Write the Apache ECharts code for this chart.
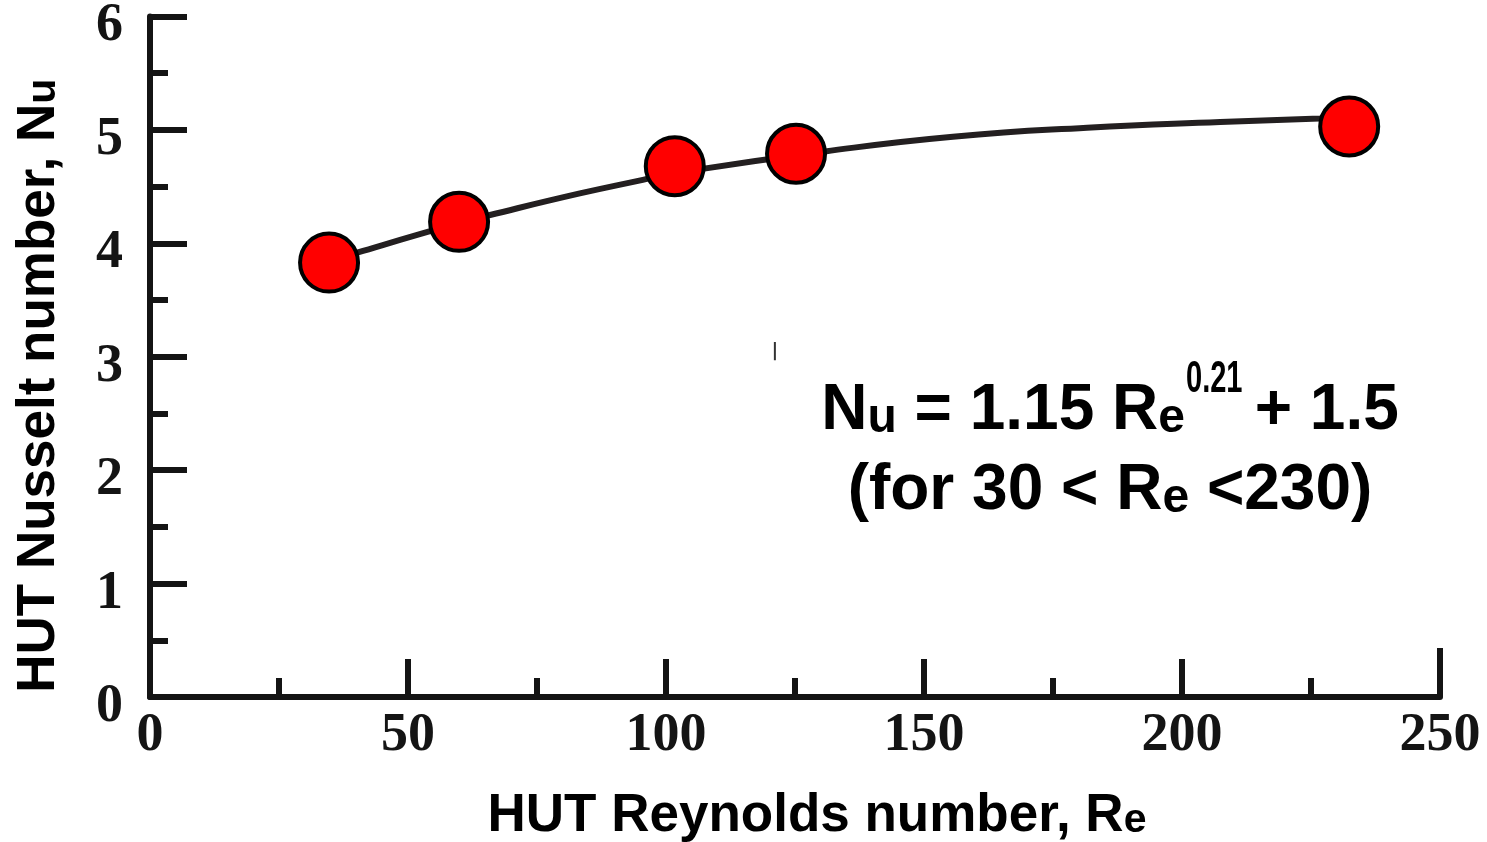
<!DOCTYPE html>
<html>
<head>
<meta charset="utf-8">
<script src="https://cdn.jsdelivr.net/npm/echarts@6/dist/echarts.min.js"></script>
<style>html,body{margin:0;padding:0;background:#fff;}#c{width:1487px;height:842px;}</style>
</head>
<body>
<div id="c"></div>
<script>
// Measured data points (Re, Nu)
const reynolds = [34.7, 59.9, 101.7, 125.2, 232.4];
const nusselt = [3.83, 4.19, 4.68, 4.79, 5.03];
// Fitted curve
const curveRe = [34.7, 40.3, 59.9, 65.9, 83.3, 95.5, 101.7, 130.8, 155.6, 181.6, 207.4, 226.7, 232.4];
const curveNu = [3.84, 3.92, 4.18, 4.25, 4.44, 4.56, 4.62, 4.81, 4.94, 5.02, 5.07, 5.10, 5.11];
// small stray mark in the figure
const strayRe = [121.1, 121.1];
const strayNu = [2.97, 3.13];
const xTicks = [0, 50, 100, 150, 200, 250];
const yTicks = [0, 1, 2, 3, 4, 5, 6];

const chart = echarts.init(document.getElementById('c'), null, {renderer: 'canvas'});
const ink = '#141414';
const labelFont = {fontFamily: 'Liberation Serif', fontWeight: 'bold', fontSize: 54, color: ink};
const titleFont = {fontFamily: 'Liberation Sans', fontWeight: 'bold', fontSize: 53, color: '#000'};
const subStyle = {fontFamily: 'Liberation Sans', fontWeight: 'bold', fontSize: 41, color: '#000', padding: [8, 0, 0, 0]};
const eqFont = 'Liberation Sans';

chart.setOption({
  animation: false,
  grid: {left: 150, right: 47, top: 16.5, bottom: 145, containLabel: false, outerBoundsMode: 'none'},
  xAxis: [{
    type: 'value', min: xTicks[0], max: xTicks[xTicks.length - 1], interval: 50,
    position: 'bottom',
    axisLine: {show: true, lineStyle: {color: ink, width: 6}},
    axisTick: {show: true, inside: true, length: 38, lineStyle: {color: ink, width: 6}},
    minorTick: {show: true, splitNumber: 2, length: 19, lineStyle: {color: ink, width: 6}},
    splitLine: {show: false},
    axisLabel: Object.assign({margin: 12}, labelFont),
    name: 'HUT Reynolds number, R{s|e}',
    nameLocation: 'middle', nameGap: 93,
    nameTextStyle: Object.assign({padding: [0, 0, 0, 44], rich: {s: subStyle}}, titleFont)
  }, {
    type: 'value', min: 0, max: 250, interval: 250, position: 'bottom',
    axisLine: {show: false},
    axisTick: {show: true, inside: true, length: 49, lineStyle: {color: ink, width: 6}},
    axisLabel: {show: false}, splitLine: {show: false}
  }],
  yAxis: {
    type: 'value', min: yTicks[0], max: yTicks[yTicks.length - 1], interval: 1,
    axisLine: {show: true, lineStyle: {color: ink, width: 6}},
    axisTick: {show: true, inside: true, length: 37, lineStyle: {color: ink, width: 6}},
    minorTick: {show: true, splitNumber: 2, length: 18, lineStyle: {color: ink, width: 6}},
    splitLine: {show: false},
    axisLabel: Object.assign({margin: 27, verticalAlign: 'top', lineHeight: 20}, labelFont),
    name: 'HUT Nusselt number, N{s|u}',
    nameLocation: 'middle', nameGap: 84,
    nameTextStyle: Object.assign({padding: [0, 58, 0, 0], rich: {s: subStyle}}, titleFont)
  },
  series: [
    {
      type: 'line', smooth: true, symbol: 'none', z: 2,
      data: curveRe.map((r, i) => [r, curveNu[i]]),
      lineStyle: {color: '#231f20', width: 6}
    },
    {
      type: 'line', symbol: 'none', z: 2,
      data: strayRe.map((r, i) => [r, strayNu[i]]),
      lineStyle: {color: '#333', width: 2}
    },
    {
      type: 'scatter', z: 5, symbol: 'circle', symbolSize: 58,
      data: reynolds.map((r, i) => [r, nusselt[i]]),
      itemStyle: {color: '#ff0000', borderColor: '#000', borderWidth: 4, opacity: 1}
    }
  ],
  graphic: [
    {
      type: 'text', x: 1110, y: 443, z: 10,
      style: {
        text: '{b|N}{s|u}{b| = 1.15 R}{s|e}{g|}{b| + 1.5}',
        textAlign: 'center', textVerticalAlign: 'bottom',
        rich: {
          b: {fontFamily: eqFont, fontWeight: 'bold', fontSize: 64, color: '#000', verticalAlign: 'bottom', lineHeight: 64},
          s: {fontFamily: eqFont, fontWeight: 'bold', fontSize: 48, color: '#000', verticalAlign: 'bottom', lineHeight: 54},
          g: {width: 52, lineHeight: 10}
        }
      }
    },
    {
      type: 'text', x: 1186, y: 358, scaleX: 0.66, z: 10,
      style: {
        text: '0.21', textAlign: 'left', textVerticalAlign: 'top',
        fontFamily: eqFont, fontWeight: 'bold', fontSize: 44, lineHeight: 44, fill: '#000'
      }
    },
    {
      type: 'text', x: 1110, y: 523, z: 10,
      style: {
        text: '{b|(for 30 < R}{s|e}{b| <230)}',
        textAlign: 'center', textVerticalAlign: 'bottom',
        rich: {
          b: {fontFamily: eqFont, fontWeight: 'bold', fontSize: 64, color: '#000', verticalAlign: 'bottom', lineHeight: 64},
          s: {fontFamily: eqFont, fontWeight: 'bold', fontSize: 48, color: '#000', verticalAlign: 'bottom', lineHeight: 54}
        }
      }
    }
  ]
});
</script>
</body>
</html>
